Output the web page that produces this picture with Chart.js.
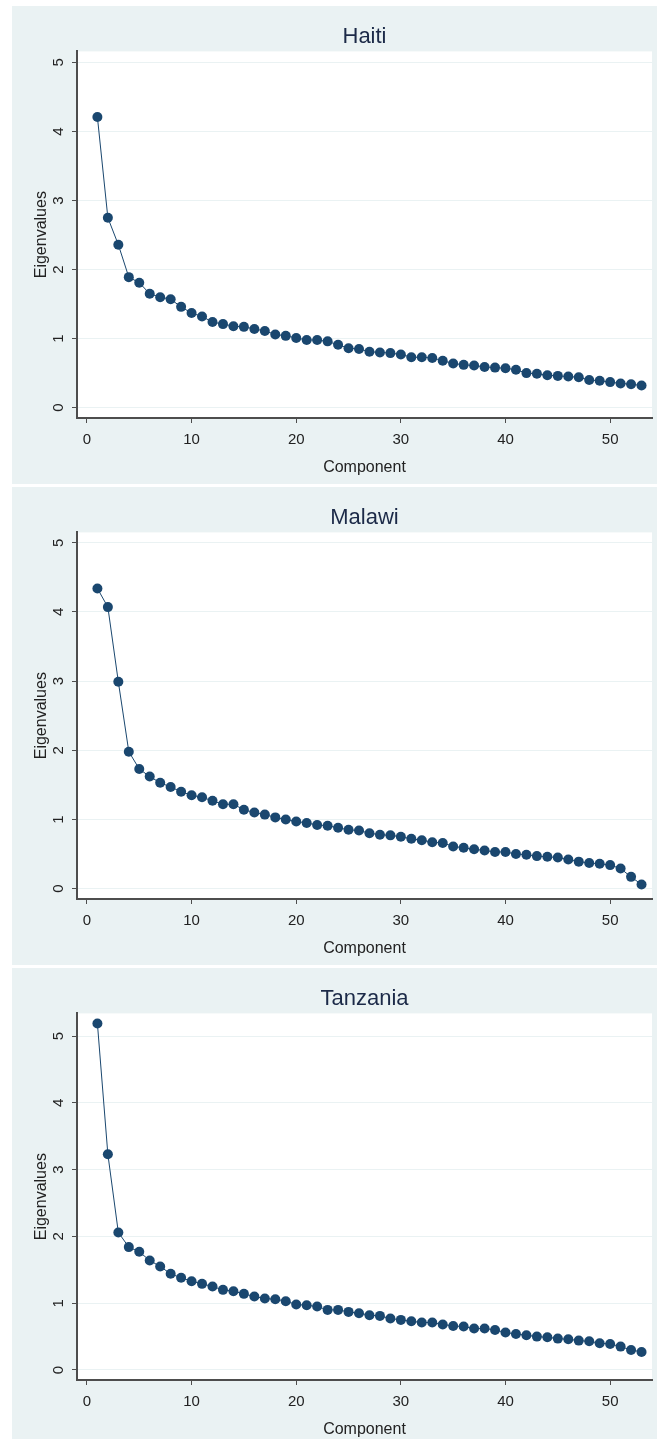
<!DOCTYPE html>
<html>
<head>
<meta charset="utf-8">
<script src="https://cdn.jsdelivr.net/npm/chart.js@4"></script>
<style>
    html, body { margin: 0; padding: 0; background: #fff; }
    body { width: 657px; height: 1439px; position: relative; overflow: hidden; }
    .panel { position: absolute; left: 12px; width: 645px; height: 478px; background: #eaf2f3; }
    .panel canvas { display: block; }
</style>
</head>
<body>
<div class="panel" style="top:6px"><canvas id="haiti" width="645" height="478"></canvas></div>
<div class="panel" style="top:487px"><canvas id="malawi" width="645" height="478"></canvas></div>
<div class="panel" style="top:968px"><canvas id="tanzania" width="645" height="478"></canvas></div>
<script>
const components = [1, 2, 3, 4, 5, 6, 7, 8, 9, 10, 11, 12, 13, 14, 15, 16, 17, 18, 19, 20,
    21, 22, 23, 24, 25, 26, 27, 28, 29, 30, 31, 32, 33, 34, 35, 36, 37, 38, 39, 40,
    41, 42, 43, 44, 45, 46, 47, 48, 49, 50, 51, 52, 53];

const haitiValues = [4.21, 2.75, 2.36, 1.89, 1.81, 1.65, 1.60, 1.57, 1.46, 1.37,
    1.32, 1.24, 1.21, 1.18, 1.17, 1.14, 1.11, 1.06, 1.04, 1.01,
    0.98, 0.98, 0.96, 0.91, 0.86, 0.85, 0.81, 0.80, 0.79, 0.77,
    0.73, 0.73, 0.72, 0.68, 0.64, 0.62, 0.61, 0.59, 0.58, 0.57,
    0.55, 0.50, 0.49, 0.47, 0.46, 0.45, 0.44, 0.40, 0.39, 0.37,
    0.35, 0.34, 0.32];

const malawiValues = [4.34, 4.07, 2.99, 1.98, 1.73, 1.62, 1.53, 1.47, 1.40, 1.35,
    1.32, 1.27, 1.22, 1.22, 1.14, 1.10, 1.07, 1.03, 1.00, 0.97,
    0.95, 0.92, 0.91, 0.88, 0.85, 0.84, 0.80, 0.78, 0.77, 0.75,
    0.72, 0.70, 0.67, 0.66, 0.61, 0.59, 0.57, 0.55, 0.53, 0.53,
    0.50, 0.49, 0.47, 0.46, 0.45, 0.42, 0.39, 0.37, 0.36, 0.34,
    0.29, 0.17, 0.06];

const tanzaniaValues = [5.19, 3.23, 2.06, 1.84, 1.77, 1.64, 1.55, 1.44, 1.38, 1.33,
    1.29, 1.25, 1.20, 1.18, 1.14, 1.10, 1.07, 1.06, 1.03, 0.98,
    0.97, 0.95, 0.90, 0.90, 0.87, 0.85, 0.82, 0.81, 0.77, 0.75,
    0.73, 0.71, 0.71, 0.68, 0.66, 0.65, 0.62, 0.62, 0.60, 0.56,
    0.54, 0.52, 0.50, 0.49, 0.47, 0.46, 0.44, 0.43, 0.40, 0.39,
    0.35, 0.30, 0.27];

const xTicks = [0, 10, 20, 30, 40, 50];
const yTicks = [0, 1, 2, 3, 4, 5];

const navy = '#1a476f';
const axisGrey = '#4d4d4d';
const fontFamily = '"Liberation Sans", Arial, sans-serif';

// white plot region on the blue-grey panel
const plotBackground = {
    id: 'plotBackground',
    beforeDraw(chart) {
        const { ctx, chartArea: a } = chart;
        ctx.save();
        ctx.fillStyle = '#ffffff';
        ctx.fillRect(a.left, a.top, a.right - a.left, a.bottom - a.top);
        ctx.restore();
    }
};

// Stata writes the y tick labels rotated, Chart.js can't, so draw them here
const verticalYLabels = {
    id: 'verticalYLabels',
    afterDraw(chart) {
        const { ctx } = chart;
        const y = chart.scales.y;
        ctx.save();
        ctx.fillStyle = '#222';
        ctx.font = '15px ' + fontFamily;
        ctx.textAlign = 'center';
        ctx.textBaseline = 'middle';
        yTicks.forEach(v => {
            ctx.save();
            ctx.translate(y.right - 18, y.getPixelForValue(v));
            ctx.rotate(-Math.PI / 2);
            ctx.fillText(String(v), 0, 0);
            ctx.restore();
        });
        ctx.restore();
    }
};

let makeScree = (id, title, values, yMax) => {
    new Chart(document.getElementById(id), {
        type: 'line',
        data: {
            datasets: [{
                data: components.map((c, i) => ({ x: c, y: values[i] })),
                borderColor: navy,
                borderWidth: 1,
                backgroundColor: navy,
                pointBackgroundColor: navy,
                pointBorderWidth: 0,
                pointRadius: 5,
                tension: 0
            }]
        },
        options: {
            responsive: false,
            animation: false,
            layout: { padding: { left: 0, right: 5, top: 0, bottom: 0 } },
            scales: {
                x: {
                    type: 'linear',
                    min: -0.95,
                    max: 54,
                    afterBuildTicks: scale => { scale.ticks = xTicks.map(v => ({ value: v })); },
                    afterFit: scale => { scale.height = 66; },
                    grid: {
                        drawOnChartArea: false,
                        tickColor: axisGrey,
                        tickLength: 5,
                        tickWidth: 1
                    },
                    border: { color: axisGrey, width: 2 },
                    ticks: {
                        color: '#222',
                        padding: 8,
                        maxRotation: 0,
                        font: { family: fontFamily, size: 15 }
                    },
                    title: {
                        display: true,
                        text: 'Component',
                        color: '#222',
                        padding: { top: 0, bottom: 7 },
                        font: { family: fontFamily, size: 16 }
                    }
                },
                y: {
                    min: -0.15,
                    max: yMax,
                    afterBuildTicks: scale => { scale.ticks = yTicks.map(v => ({ value: v })); },
                    afterFit: scale => { scale.width = 65; },
                    grid: {
                        color: '#eaf2f3',
                        lineWidth: 1,
                        tickColor: axisGrey,
                        tickLength: 5,
                        tickWidth: 1
                    },
                    border: { color: axisGrey, width: 2 },
                    ticks: { display: false },
                    title: {
                        display: true,
                        text: 'Eigenvalues',
                        color: '#222',
                        padding: { top: 20, bottom: 0 },
                        font: { family: fontFamily, size: 16 }
                    }
                }
            },
            plugins: {
                legend: { display: false },
                tooltip: { enabled: false },
                title: {
                    display: true,
                    text: title,
                    fullSize: false,
                    color: '#1c2a48',
                    padding: { top: 18, bottom: 1 },
                    font: { family: fontFamily, size: 22, weight: 'normal' }
                }
            }
        },
        plugins: [plotBackground, verticalYLabels]
    });
}

makeScree('haiti', 'Haiti', haitiValues, 5.16);
makeScree('malawi', 'Malawi', malawiValues, 5.15);
makeScree('tanzania', 'Tanzania', tanzaniaValues, 5.34);
</script>
</body>
</html>
